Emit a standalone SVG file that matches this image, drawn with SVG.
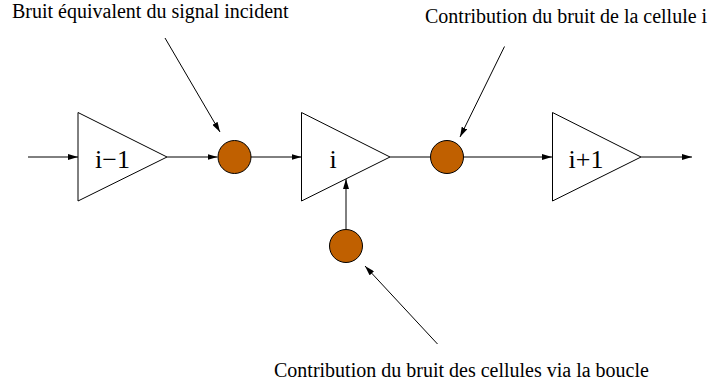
<svg xmlns="http://www.w3.org/2000/svg" width="710" height="388" viewBox="0 0 710 388">
<style>
.tri{fill:#fff;stroke:#000;stroke-width:1}
.dot{fill:#c06000;stroke:#000;stroke-width:1}
.ln{stroke:#000;stroke-width:1;fill:none}
text{font-family:'Liberation Serif',serif;fill:#000}
.lbl{font-size:20px}
.amp{font-size:26px;text-anchor:middle}
</style>
<defs>
<marker id="ah" viewBox="0 0 10 6" refX="10" refY="3" markerWidth="10" markerHeight="6" markerUnits="userSpaceOnUse" orient="auto">
<path d="M0,0 L10,3 L0,6 Z" fill="#000"/>
</marker>
</defs>
<rect width="710" height="388" fill="#fff"/>
<g id="connectors">
<line class="ln" x1="28" y1="157" x2="78" y2="157" marker-end="url(#ah)"/>
<line class="ln" x1="167" y1="157" x2="217.5" y2="157" marker-end="url(#ah)"/>
<line class="ln" x1="251" y1="157" x2="301.5" y2="157" marker-end="url(#ah)"/>
<line class="ln" x1="390" y1="157" x2="430" y2="157"/>
<line class="ln" x1="463.5" y1="157" x2="552" y2="157" marker-end="url(#ah)"/>
<line class="ln" x1="641" y1="157" x2="692" y2="157" marker-end="url(#ah)"/>
<line class="ln" x1="346" y1="229" x2="346" y2="179" marker-end="url(#ah)"/>
<line class="ln" x1="165" y1="38" x2="220" y2="132" marker-end="url(#ah)"/>
<line class="ln" x1="504.5" y1="46.5" x2="460" y2="137" marker-end="url(#ah)"/>
<line class="ln" x1="437.5" y1="344" x2="365" y2="266" marker-end="url(#ah)"/>
</g>
<g id="amp1">
<polygon class="tri" points="78,112.5 167,157 78,201"/>
<text class="amp" x="112.5" y="168">i−1</text>
</g>
<g id="amp2">
<polygon class="tri" points="301.5,112.5 390,157 301.5,201"/>
<text class="amp" x="333" y="168">i</text>
</g>
<g id="amp3">
<polygon class="tri" points="552.5,112.5 641,157 552.5,201"/>
<text class="amp" x="586" y="168">i+1</text>
</g>
<g id="noise1"><circle class="dot" cx="234.5" cy="157" r="16.5"/></g>
<g id="noise2"><circle class="dot" cx="447" cy="157" r="16.5"/></g>
<g id="noise3"><circle class="dot" cx="346" cy="246" r="16.5"/></g>
<g id="label1"><text class="lbl" x="12" y="18">Bruit équivalent du signal incident</text></g>
<g id="label2"><text class="lbl" x="425" y="23">Contribution du bruit de la cellule i</text></g>
<g id="label3"><text class="lbl" x="274" y="377">Contribution du bruit des cellules via la boucle</text></g>
</svg>
